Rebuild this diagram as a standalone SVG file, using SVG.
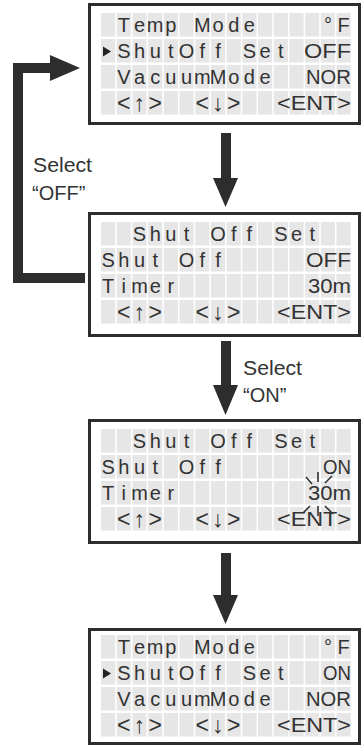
<svg xmlns="http://www.w3.org/2000/svg" xmlns:xlink="http://www.w3.org/1999/xlink" width="363" height="746" viewBox="0 0 363 746">
<style>
.frame{fill:#fff;stroke:#2d2d2d;stroke-width:3}
.cell{fill:#e6e6e6}
.lcd{font-family:"Liberation Sans","DejaVu Sans",sans-serif;font-size:20px;fill:#333;text-anchor:middle}
.nv{font-size:23px}
.rt{font-family:"Liberation Sans","DejaVu Sans",sans-serif;font-size:20px;fill:#333;text-anchor:end}
.lbl{font-family:"Liberation Sans",Arial,sans-serif;font-size:20px;fill:#333}
.arr{fill:#2d2d2d}
.ray{stroke:#333;stroke-width:1.6;fill:none}
</style>
<defs>
<g id="row">
<rect class="cell" x="101" y="0" width="14.2" height="23.5"/>
<rect class="cell" x="116.7" y="0" width="14.2" height="23.5"/>
<rect class="cell" x="132.4" y="0" width="14.2" height="23.5"/>
<rect class="cell" x="148.1" y="0" width="14.2" height="23.5"/>
<rect class="cell" x="163.8" y="0" width="14.2" height="23.5"/>
<rect class="cell" x="179.5" y="0" width="14.2" height="23.5"/>
<rect class="cell" x="195.2" y="0" width="14.2" height="23.5"/>
<rect class="cell" x="210.9" y="0" width="14.2" height="23.5"/>
<rect class="cell" x="226.6" y="0" width="14.2" height="23.5"/>
<rect class="cell" x="242.3" y="0" width="14.2" height="23.5"/>
<rect class="cell" x="258" y="0" width="14.2" height="23.5"/>
<rect class="cell" x="273.7" y="0" width="14.2" height="23.5"/>
<rect class="cell" x="289.4" y="0" width="14.2" height="23.5"/>
<rect class="cell" x="305.1" y="0" width="14.2" height="23.5"/>
<rect class="cell" x="320.8" y="0" width="14.2" height="23.5"/>
<rect class="cell" x="336.5" y="0" width="14.2" height="23.5"/>
</g>
<g id="grid">
<use xlink:href="#row" y="0"/>
<use xlink:href="#row" y="26"/>
<use xlink:href="#row" y="52"/>
<use xlink:href="#row" y="78"/>
</g>
<g id="nav">
<text class="lcd nv" x="123.8 139.5 155.2" y="98">&lt;↑&gt;</text>
<text class="lcd nv" x="202.3 218 233.7" y="98">&lt;↓&gt;</text>
<text class="rt" x="351" y="97" textLength="74" lengthAdjust="spacingAndGlyphs">&lt;ENT&gt;</text>
</g>
<polygon id="cursor" points="103,33.5 111,38.5 103,43.5" fill="#222"/>
</defs>

<g id="connectors">
<path class="arr" d="M13,63 H50 V55 L80,68 L50,81 V73 H23 V273 H85 V283 H13 Z"/>
<path class="arr" d="M221,133 H231 V178 H238 L225.5,207 L213,178 H221 Z"/>
<path class="arr" d="M221,341 H231 V385 H238 L225.5,415 L213,385 H221 Z"/>
<path class="arr" d="M221,553 H231 V595 H238 L225.5,624 L213,595 H221 Z"/>
<text class="lbl" x="33" y="172" textLength="59" lengthAdjust="spacingAndGlyphs">Select</text>
<text class="lbl" x="32" y="200">“OFF”</text>
<text class="lbl" x="243" y="375" textLength="59" lengthAdjust="spacingAndGlyphs">Select</text>
<text class="lbl" x="243" y="402">“ON”</text>
</g>

<g id="panel1" transform="translate(0,13)">
<rect class="frame" x="89.5" y="-8.5" width="270" height="119"/>
<use xlink:href="#grid"/>
<text class="lcd" x="123.8 139.5 155.2 170.9 186.6 202.3 218 233.7 249.4" y="19">Temp Mode</text>
<text class="lcd" x="327.9 343.6" y="19">°F</text>
<use xlink:href="#cursor"/>
<text class="lcd" x="123.8 139.5 155.2 170.9 186.6 202.3 218 233.7 249.4 265.1 280.8" y="45">ShutOff Set</text>
<text class="rt" x="351" y="45" textLength="47" lengthAdjust="spacingAndGlyphs">OFF</text>
<text class="lcd" x="123.8 139.5 155.2 170.9 186.6 202.3 218 233.7 249.4 265.1" y="71">VacuumMode</text>
<text class="rt" x="351" y="71" textLength="45" lengthAdjust="spacingAndGlyphs">NOR</text>
<use xlink:href="#nav"/>
</g>

<g id="panel2" transform="translate(0,222)">
<rect class="frame" x="89.5" y="-8.5" width="270" height="122"/>
<use xlink:href="#grid"/>
<text class="lcd" x="139.5 155.2 170.9 186.6 202.3 218 233.7 249.4 265.1 280.8 296.5 312.2" y="19">Shut Off Set</text>
<text class="lcd" x="108.1 123.8 139.5 155.2 170.9 186.6 202.3 218" y="45">Shut Off</text>
<text class="rt" x="351" y="45" textLength="45" lengthAdjust="spacingAndGlyphs">OFF</text>
<text class="lcd" x="108.1 123.8 139.5 155.2 170.9" y="71">Timer</text>
<text class="rt" x="351" y="71" textLength="43" lengthAdjust="spacingAndGlyphs">30m</text>
<use xlink:href="#nav"/>
</g>

<g id="panel3" transform="translate(0,429)">
<rect class="frame" x="89.5" y="-8.5" width="270" height="122"/>
<use xlink:href="#grid"/>
<text class="lcd" x="139.5 155.2 170.9 186.6 202.3 218 233.7 249.4 265.1 280.8 296.5 312.2" y="19">Shut Off Set</text>
<text class="lcd" x="108.1 123.8 139.5 155.2 170.9 186.6 202.3 218" y="45">Shut Off</text>
<text class="rt" x="351" y="45" textLength="28" lengthAdjust="spacingAndGlyphs">ON</text>
<text class="lcd" x="108.1 123.8 139.5 155.2 170.9" y="71">Timer</text>
<text class="rt" x="351" y="71" textLength="43" lengthAdjust="spacingAndGlyphs">30m</text>
<use xlink:href="#nav"/>
<g class="ray">
<line x1="318" y1="43" x2="318" y2="53"/>
<line x1="306" y1="48" x2="312" y2="55"/>
<line x1="332" y1="47" x2="325" y2="54"/>
<line x1="318" y1="77" x2="318" y2="87"/>
<line x1="303" y1="84" x2="310" y2="77"/>
<line x1="333" y1="85" x2="325" y2="77"/>
</g>
</g>

<g id="panel4" transform="translate(0,635)">
<rect class="frame" x="89.5" y="-5.5" width="270" height="114"/>
<use xlink:href="#grid"/>
<text class="lcd" x="123.8 139.5 155.2 170.9 186.6 202.3 218 233.7 249.4" y="19">Temp Mode</text>
<text class="lcd" x="327.9 343.6" y="19">°F</text>
<use xlink:href="#cursor"/>
<text class="lcd" x="123.8 139.5 155.2 170.9 186.6 202.3 218 233.7 249.4 265.1 280.8" y="45">ShutOff Set</text>
<text class="rt" x="351" y="45" textLength="28" lengthAdjust="spacingAndGlyphs">ON</text>
<text class="lcd" x="123.8 139.5 155.2 170.9 186.6 202.3 218 233.7 249.4 265.1" y="71">VacuumMode</text>
<text class="rt" x="351" y="71" textLength="45" lengthAdjust="spacingAndGlyphs">NOR</text>
<use xlink:href="#nav"/>
</g>
</svg>
